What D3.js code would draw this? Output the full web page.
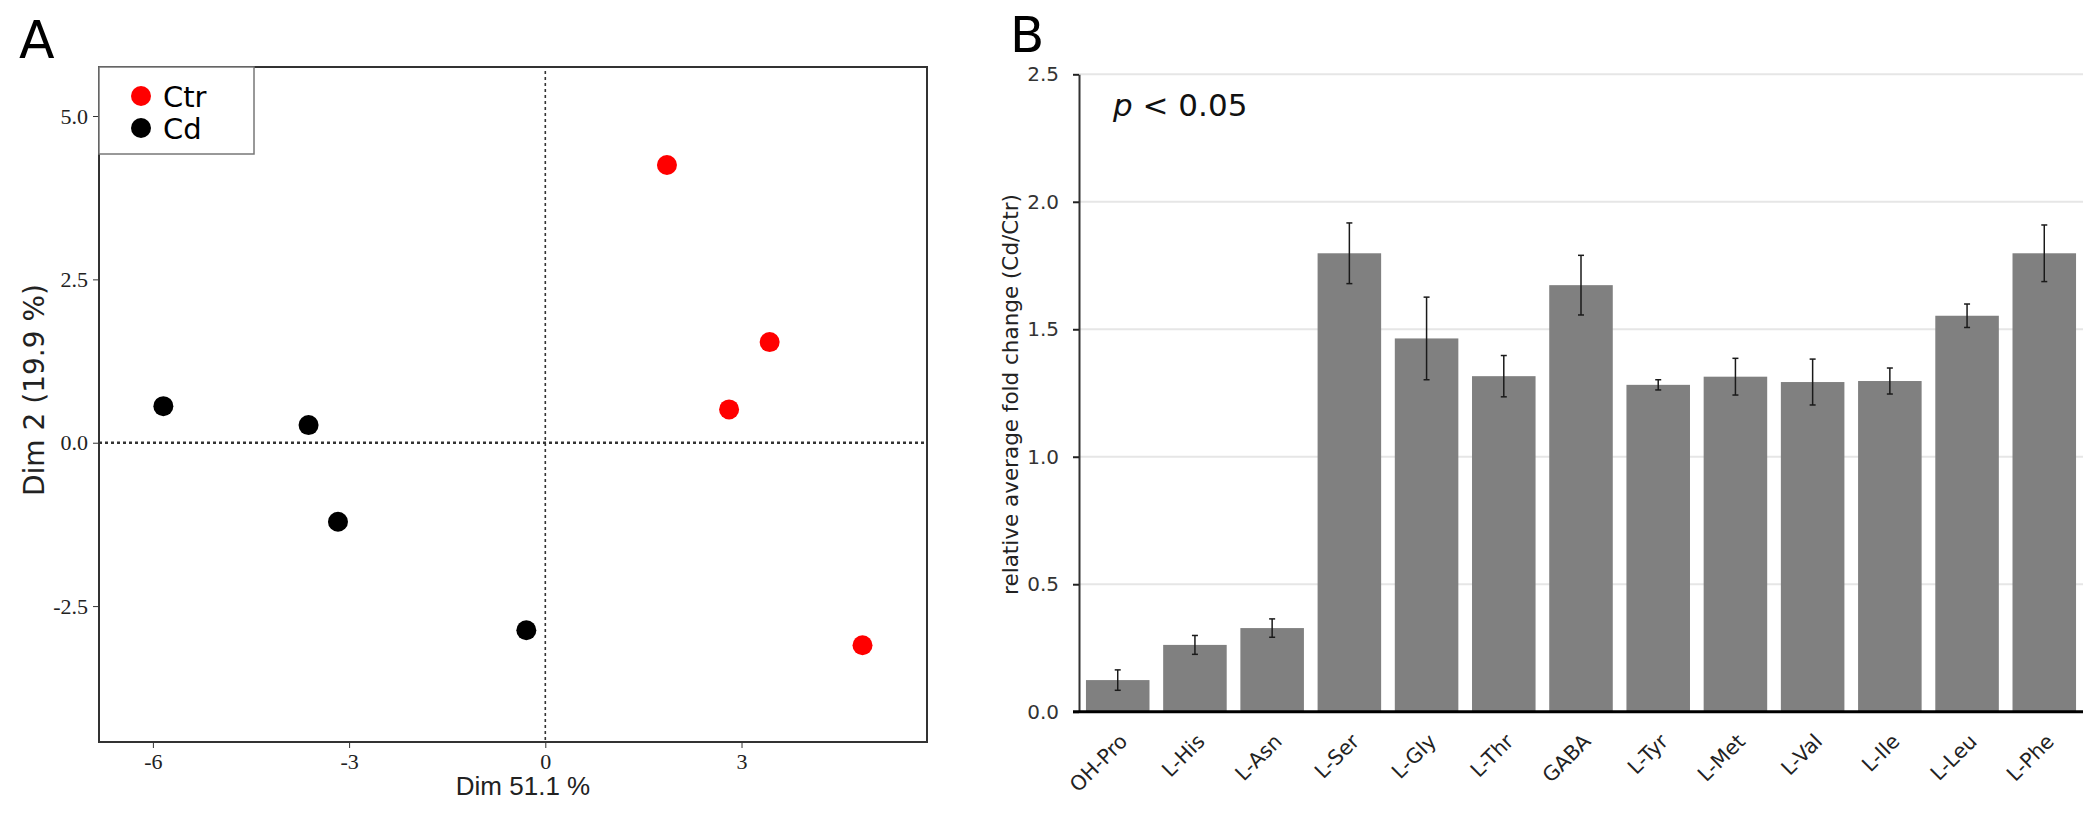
<!DOCTYPE html>
<html>
<head>
<meta charset="utf-8">
<script src="https://cdn.jsdelivr.net/npm/d3@7"></script>
<style>
  body { margin: 0; background: #fff; }
  svg { display: block; }
</style>
</head>
<body>
<script>
// panel A: PCA scores
var pcaGroups = ["Ctr", "Cd"];
var pcaGroupColors = ["#ff0000", "#000000"];
var pcaSample = ["Ctr", "Ctr", "Ctr", "Ctr", "Cd", "Cd", "Cd", "Cd"];
var pcaDim1 = [1.86, 3.43, 2.81, 4.85, -5.84, -3.62, -3.17, -0.29];
var pcaDim2 = [4.25, 1.54, 0.51, -3.10, 0.56, 0.27, -1.21, -2.87];
var pcaXTicks = [-6, -3, 0, 3];
var pcaYTicks = [-2.5, 0, 2.5, 5.0];

// panel B: fold change
var aminoAcids = ["OH-Pro", "L-His", "L-Asn", "L-Ser", "L-Gly", "L-Thr", "GABA",
                  "L-Tyr", "L-Met", "L-Val", "L-Ile", "L-Leu", "L-Phe"];
var foldChange = [0.124, 0.262, 0.328, 1.798, 1.464, 1.316, 1.673,
                  1.282, 1.314, 1.293, 1.297, 1.553, 1.798];
var foldError = [0.040, 0.037, 0.036, 0.119, 0.162, 0.081, 0.117,
                 0.020, 0.072, 0.090, 0.051, 0.046, 0.111];
var foldTicks = [0, 0.5, 1.0, 1.5, 2.0, 2.5];

var svg = d3.select("body").append("svg")
    .attr("width", 2088)
    .attr("height", 813);

// ---------- panel A ----------
var boxA = {left: 99, right: 927, top: 67, bottom: 742};

var xA = d3.scaleLinear().domain([-6.824, 5.836]).range([boxA.left, boxA.right]);
var yA = d3.scaleLinear().domain([-4.58, 5.75]).range([boxA.bottom, boxA.top]);
var colorA = d3.scaleOrdinal().domain(pcaGroups).range(pcaGroupColors);

var gA = svg.append("g");

gA.append("text")
    .attr("x", 19).attr("y", 58)
    .attr("font-family", "DejaVu Sans")
    .attr("font-size", 52)
    .text("A");

// reference lines through the origin
gA.append("line")
    .attr("x1", xA(0)).attr("x2", xA(0))
    .attr("y1", boxA.top + 4).attr("y2", boxA.bottom)
    .attr("stroke", "#333").attr("stroke-width", 1.6)
    .attr("stroke-dasharray", "3,3");
gA.append("line")
    .attr("x1", boxA.left).attr("x2", boxA.right)
    .attr("y1", yA(0)).attr("y2", yA(0))
    .attr("stroke", "#333").attr("stroke-width", 2.6)
    .attr("stroke-dasharray", "3,3");

var xAxisA = d3.axisBottom(xA).tickValues(pcaXTicks)
    .tickFormat(function(d){ return String(d); })
    .tickSize(6).tickPadding(5);
var yAxisA = d3.axisLeft(yA).tickValues(pcaYTicks)
    .tickFormat(function(d){ return d.toFixed(1); })
    .tickSize(6).tickPadding(5);

gA.append("g")
    .attr("transform", "translate(0," + boxA.bottom + ")")
    .call(xAxisA)
    .call(function(g){ g.select(".domain").remove(); })
    .call(function(g){
      g.selectAll("line").attr("stroke", "#333");
      g.selectAll("text").attr("font-family", "Liberation Sans Narrow")
        .attr("font-size", 22).attr("fill", "#222");
    });

gA.append("g")
    .attr("transform", "translate(" + boxA.left + ",0)")
    .call(yAxisA)
    .call(function(g){ g.select(".domain").remove(); })
    .call(function(g){
      g.selectAll("line").attr("stroke", "#333");
      g.selectAll("text").attr("font-family", "Liberation Sans Narrow")
        .attr("font-size", 22).attr("fill", "#222");
    });

gA.selectAll("circle.pt")
    .data(pcaDim1)
    .enter().append("circle")
    .attr("class", "pt")
    .attr("cx", function(d){ return xA(d); })
    .attr("cy", function(d, i){ return yA(pcaDim2[i]); })
    .attr("r", 10)
    .attr("fill", function(d, i){ return colorA(pcaSample[i]); });

gA.append("rect")
    .attr("x", boxA.left).attr("y", boxA.top)
    .attr("width", boxA.right - boxA.left)
    .attr("height", boxA.bottom - boxA.top)
    .attr("fill", "none").attr("stroke", "#333").attr("stroke-width", 2);

// legend
var legend = gA.append("g");
legend.append("rect")
    .attr("x", boxA.left).attr("y", boxA.top)
    .attr("width", 155).attr("height", 87)
    .attr("fill", "#fff").attr("stroke", "#777").attr("stroke-width", 1.5);
var legItem = legend.selectAll("g.item")
    .data(pcaGroups)
    .enter().append("g")
    .attr("class", "item")
    .attr("transform", function(d, i){ return "translate(141," + (96 + i * 32) + ")"; });
legItem.append("circle")
    .attr("r", 10)
    .attr("fill", function(d){ return colorA(d); });
legItem.append("text")
    .attr("x", 22).attr("y", 10.5)
    .attr("font-family", "DejaVu Sans")
    .attr("font-size", 29)
    .text(function(d){ return d; });

gA.append("text")
    .attr("x", 523).attr("y", 795)
    .attr("text-anchor", "middle")
    .attr("font-family", "Liberation Sans")
    .attr("font-size", 26)
    .attr("fill", "#222")
    .text("Dim 51.1 %");

gA.append("text")
    .attr("transform", "translate(44,390) rotate(-90)")
    .attr("text-anchor", "middle")
    .attr("font-family", "DejaVu Sans")
    .attr("font-size", 28)
    .attr("fill", "#222")
    .text("Dim 2 (19.9 %)");

// ---------- panel B ----------
var xB = d3.scaleBand().domain(aminoAcids).range([1079, 2083])
    .paddingInner(0.177).paddingOuter(0.09);
var yB = d3.scaleLinear().domain([0, 2.5]).range([711.7, 74.3]);

var gB = svg.append("g");

gB.append("text")
    .attr("x", 1010).attr("y", 52)
    .attr("font-family", "DejaVu Sans")
    .attr("font-size", 50)
    .text("B");

gB.selectAll("line.grid")
    .data(foldTicks.filter(function(d){ return d > 0; }))
    .enter().append("line")
    .attr("class", "grid")
    .attr("x1", 1079).attr("x2", 2083)
    .attr("y1", function(d){ return yB(d); })
    .attr("y2", function(d){ return yB(d); })
    .attr("stroke", "#e6e6e6").attr("stroke-width", 2);

gB.selectAll("rect.bar")
    .data(foldChange)
    .enter().append("rect")
    .attr("class", "bar")
    .attr("x", function(d, i){ return xB(aminoAcids[i]); })
    .attr("width", xB.bandwidth())
    .attr("y", function(d){ return yB(d); })
    .attr("height", function(d){ return yB(0) - yB(d); })
    .attr("fill", "#808080");

var errG = gB.selectAll("g.err")
    .data(foldChange)
    .enter().append("g")
    .attr("class", "err")
    .attr("transform", function(d, i){
      return "translate(" + (xB(aminoAcids[i]) + xB.bandwidth() / 2) + ",0)";
    });
errG.append("line")
    .attr("y1", function(d, i){ return yB(d + foldError[i]); })
    .attr("y2", function(d, i){ return yB(d - foldError[i]); })
    .attr("stroke", "#1a1a1a").attr("stroke-width", 1.5);
errG.append("line")
    .attr("x1", -3).attr("x2", 3)
    .attr("y1", function(d, i){ return yB(d + foldError[i]); })
    .attr("y2", function(d, i){ return yB(d + foldError[i]); })
    .attr("stroke", "#1a1a1a").attr("stroke-width", 1.5);
errG.append("line")
    .attr("x1", -3).attr("x2", 3)
    .attr("y1", function(d, i){ return yB(d - foldError[i]); })
    .attr("y2", function(d, i){ return yB(d - foldError[i]); })
    .attr("stroke", "#1a1a1a").attr("stroke-width", 1.5);

var yAxisB = d3.axisLeft(yB).tickValues(foldTicks)
    .tickFormat(d3.format(".1f"))
    .tickSize(6).tickSizeOuter(0).tickPadding(14);
gB.append("g")
    .attr("transform", "translate(1079,0)")
    .call(yAxisB)
    .call(function(g){
      g.select(".domain").attr("stroke", "#333").attr("stroke-width", 2);
      g.selectAll(".tick line").attr("stroke", "#222").attr("stroke-width", 2);
      g.selectAll("text").attr("font-family", "DejaVu Sans")
        .attr("font-size", 20).attr("fill", "#333");
    });

var xAxisB = d3.axisBottom(xB).tickSize(0).tickPadding(0);
gB.append("g")
    .attr("transform", "translate(0," + yB(0) + ")")
    .call(xAxisB)
    .call(function(g){
      g.select(".domain").remove();
      g.selectAll("text")
        .attr("y", 0).attr("dy", 0)
        .attr("text-anchor", "end")
        .attr("transform", "translate(11,31) rotate(-45)")
        .attr("font-family", "DejaVu Sans")
        .attr("font-size", 20.5)
        .attr("fill", "#222");
    });

// baseline
gB.append("line")
    .attr("x1", 1073).attr("x2", 2083)
    .attr("y1", yB(0)).attr("y2", yB(0))
    .attr("stroke", "#000").attr("stroke-width", 3);

var pLabel = gB.append("text")
    .attr("x", 1113).attr("y", 116)
    .attr("font-family", "DejaVu Sans")
    .attr("font-size", 31)
    .attr("fill", "#111");
pLabel.append("tspan").attr("font-style", "italic").text("p");
pLabel.append("tspan").text(" < 0.05");

gB.append("text")
    .attr("transform", "translate(1018,394.5) rotate(-90)")
    .attr("text-anchor", "middle")
    .attr("font-family", "DejaVu Sans")
    .attr("font-size", 21.5)
    .attr("fill", "#222")
    .text("relative average fold change (Cd/Ctr)");
</script>
</body>
</html>
